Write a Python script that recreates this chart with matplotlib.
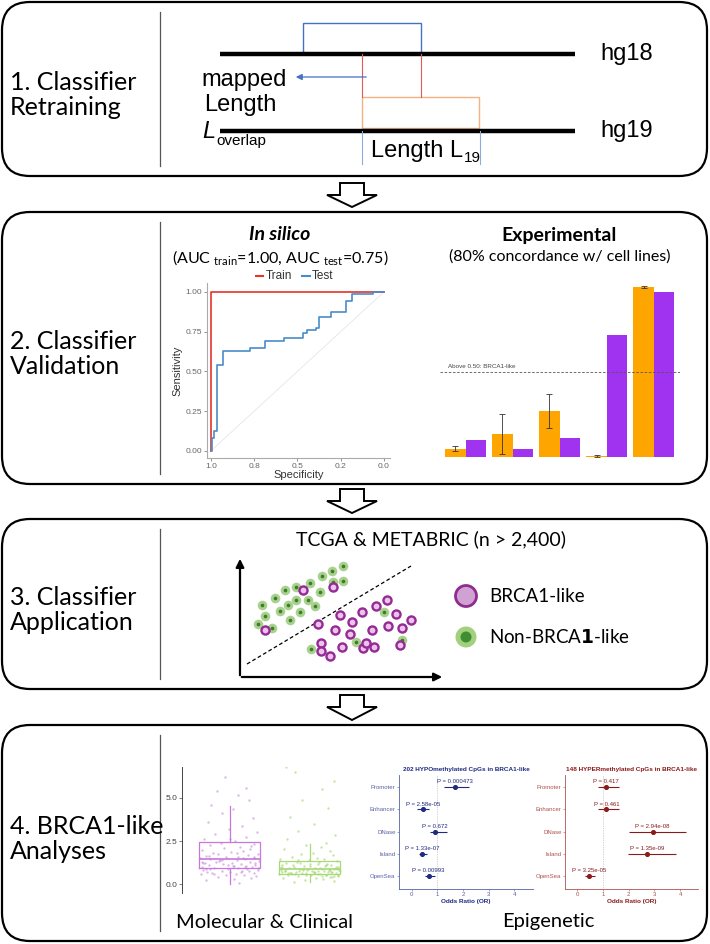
import matplotlib
matplotlib.use("Agg")
import matplotlib.pyplot as plt
from matplotlib.patches import FancyBboxPatch, Polygon, Rectangle, Circle

plt.rcParams['font.family'] = ['Lato', 'DejaVu Sans']
ARIAL = 'Liberation Sans'

# ---------------- data ----------------
# ROC curves (specificity, sensitivity) step corners
roc_test_spec = [1.0, 0.995, 0.984, 0.966, 0.93, 0.775, 0.69, 0.58, 0.47, 0.445,
                 0.39, 0.375, 0.305, 0.22, 0.185, 0.065, 0.0]
roc_test_sens = [0.0, 0.08, 0.125, 0.54, 0.63, 0.65, 0.69, 0.71, 0.74, 0.76,
                 0.775, 0.84, 0.875, 0.94, 0.985, 1.0, 1.0]
roc_train_spec = [1.0, 1.0, 0.0]
roc_train_sens = [0.0, 1.0, 1.0]
roc_ticks = [0.0, 0.25, 0.5, 0.75, 1.0]

# experimental cell line bars
bar_groups = [1, 2, 3, 4, 5]
bar_exp = [0.05, 0.135, 0.27, 0.006, 1.0]
bar_exp_err = [0.015, 0.12, 0.10, 0.004, 0.004]
bar_pred = [0.10, 0.05, 0.11, 0.72, 0.97]
cutoff = 0.5

# classifier application scatter (arbitrary feature space)
green_x = [18, 25, 32, 40, 48, 56, 60, 45, 56, 70, 82, 92, 103, 103, 93, 80, 68, 35, 22, 75,
           71, 116, 144, 162, 50]
green_y = [53, 61, 49, 66, 72, 77, 65, 87, 90, 94, 101, 106, 111, 96, 95, 85, 77, 79, 72, 71,
           28, 35, 65, 37, 57]
purple_x = [25, 63, 93, 81, 81, 90, 102, 123, 126, 134, 100, 112, 122, 136, 147, 156, 148, 162,
            171, 110, 132, 95, 78, 160]
purple_y = [47, 87, 90, 34, 26, 21, 30, 29, 34, 30, 62, 55, 65, 71, 77, 63, 51, 49,
            57, 43, 47, 47, 53, 32]

# molecular & clinical boxplot summary
box_labels = ['BRCA1-like', 'Non-BRCA1-like']
box_q1 = [0.93, 0.58]
box_med = [1.45, 0.87]
box_q3 = [2.44, 1.35]
box_whislo = [0.02, 0.12]
box_whishi = [4.53, 2.33]
purple_vals = [0.05, 0.22, 0.31, 0.38, 0.42, 0.47, 0.51, 0.55, 0.58, 0.61, 0.64, 0.66, 0.69, 0.72,
               0.74, 0.77, 0.8, 0.83, 0.86, 0.88, 0.91, 0.94, 0.97, 1.0, 1.03, 1.06, 1.09, 1.12,
               1.15, 1.18, 1.21, 1.24, 1.28, 1.31, 1.34, 1.38, 1.41, 1.44, 1.47, 1.5, 1.53, 1.57,
               1.6, 1.64, 1.68, 1.72, 1.77, 1.82, 1.87, 1.93, 1.98, 2.04, 2.1, 2.18, 2.25, 2.33,
               2.41, 2.5, 2.62, 2.75, 2.9, 3.05, 3.2, 3.4, 3.6, 3.85, 4.1, 4.35, 4.6, 4.9, 5.15,
               5.4, 5.6, 6.2, 0.6, 0.75, 0.9, 1.05, 1.2, 1.35, 1.5, 1.65, 1.1, 0.95, 1.3, 1.8,
               2.2, 0.7, 1.4, 1.55, 0.85, 2.6, 1.0, 1.25]
purple_dx = [0.12, -0.3, 0.05, 0.27, -0.15, 0.33, -0.05, 0.18, -0.36, 0.08, -0.22, 0.3, 0.0, -0.28,
             0.15, -0.1, 0.35, -0.33, 0.22, -0.02, 0.1, -0.19, 0.28, -0.35, 0.06, 0.2, -0.26, 0.32,
             -0.08, 0.14, -0.31, 0.03, 0.25, -0.17, 0.37, -0.12, 0.09, -0.24, 0.19, -0.37, 0.3, -0.04,
             0.11, -0.29, 0.23, -0.14, 0.36, -0.21, 0.02, 0.17, -0.34, 0.26, -0.07, 0.13, -0.25, 0.31,
             -0.11, 0.07, -0.32, 0.21, -0.18, 0.34, -0.01, 0.16, -0.27, 0.29, -0.09, 0.04, -0.23, 0.24,
             0.1, -0.16, 0.2, -0.06, -0.2, 0.24, -0.3, 0.04, 0.32, -0.13, 0.17, -0.26, -0.02, 0.35,
             -0.34, 0.09, 0.27, 0.14, -0.09, 0.3, -0.24, 0.01, 0.19, -0.33]
green_vals = [0.12, 0.2, 0.25, 0.3, 0.34, 0.38, 0.41, 0.44, 0.47, 0.5, 0.52, 0.55, 0.57, 0.6, 0.62,
              0.64, 0.66, 0.68, 0.7, 0.72, 0.74, 0.76, 0.78, 0.8, 0.82, 0.84, 0.86, 0.88, 0.9, 0.92,
              0.95, 0.98, 1.0, 1.03, 1.06, 1.09, 1.12, 1.15, 1.18, 1.22, 1.26, 1.3, 1.34, 1.38, 1.43,
              1.48, 1.54, 1.6, 1.67, 1.75, 1.83, 1.92, 2.02, 2.13, 2.25, 2.4, 2.6, 2.85, 3.1, 3.5,
              3.9, 4.4, 4.9, 5.5, 6.0, 6.5, 6.8, 0.58, 0.63, 0.71, 0.77, 0.83, 0.69, 0.74, 0.52, 0.9,
              0.97, 1.1, 0.45, 0.65, 0.55, 0.6, 0.67, 0.73, 0.79, 0.85, 0.93, 1.0, 1.08, 1.2, 0.48,
              0.62, 0.7, 0.81, 0.88, 0.57, 0.76, 0.95, 1.15, 1.4, 0.4, 0.53, 0.68, 0.86, 1.02]
green_dx = [-0.2, 0.31, -0.06, 0.17, -0.33, 0.08, 0.26, -0.14, 0.36, -0.27, 0.02, 0.21, -0.38, 0.13,
            -0.09, 0.33, -0.24, 0.05, 0.28, -0.17, 0.38, -0.31, 0.1, -0.03, 0.24, -0.36, 0.15, -0.12,
            0.3, -0.26, 0.07, 0.35, -0.19, 0.19, -0.07, 0.27, -0.34, 0.01, 0.22, -0.29, 0.12, -0.16,
            0.34, -0.01, 0.18, -0.37, 0.09, -0.22, 0.29, -0.11, 0.04, 0.25, -0.32, 0.14, -0.05,
            0.2, -0.28, 0.32, -0.15, 0.06, -0.25, 0.23, -0.1, 0.16, 0.3, -0.18, -0.3, 0.11, -0.23,
            0.27, -0.13, 0.37, -0.35, 0.03, 0.2, -0.08, 0.33, -0.21, 0.15, -0.04, 0.36, -0.18,
            0.07, -0.31, 0.26, -0.02, 0.13, -0.36, 0.21, -0.12, 0.31, -0.27, 0.05, -0.08, 0.34,
            -0.22, 0.18, -0.34, 0.1, -0.15, 0.28, -0.05, 0.23, -0.29, 0.0]

# epigenetic forest plots
cpg_regions = ['Promoter', 'Enhancer', 'DNase', 'Island', 'OpenSea']
hypo_or = [1.69, 0.43, 0.90, 0.39, 0.66]
hypo_lo = [1.25, 0.20, 0.70, 0.30, 0.50]
hypo_hi = [2.24, 0.67, 1.37, 0.58, 0.92]
hypo_p = ['P = 0.000473', 'P = 2.58e-05', 'P = 0.672', 'P = 1.33e-07', 'P = 0.00993']
hyper_or = [1.13, 1.13, 2.93, 2.73, 0.45]
hyper_lo = [0.81, 0.81, 2.03, 1.96, 0.30]
hyper_hi = [1.63, 1.63, 4.22, 3.84, 0.68]
hyper_p = ['P = 0.417', 'P = 0.461', 'P = 2.94e-08', 'P = 1.35e-09', 'P = 3.25e-05']
or_ticks = [0, 1, 2, 3, 4]

# ---------------- canvas ----------------
W, H = 710, 944
fig = plt.figure(figsize=(W / 100, H / 100), dpi=100)
ax = fig.add_axes([0, 0, 1, 1])
ax.set_xlim(0, W)
ax.set_ylim(H, 0)
ax.axis('off')


def inset(x0, y0, x1, y1):
    return fig.add_axes([x0 / W, 1 - y1 / H, (x1 - x0) / W, (y1 - y0) / H])


# panels, dividers and step labels
panels = [(2, 176), (212, 484), (519, 689), (725, 941)]
step_labels = ['1. Classifier\nRetraining', '2. Classifier\nValidation',
               '3. Classifier\nApplication', '4. BRCA1-like\nAnalyses']
for (top, bot), lab in zip(panels, step_labels):
    ax.add_patch(FancyBboxPatch((2, top), 705, bot - top,
                                boxstyle='round,pad=0,rounding_size=28',
                                fc='white', ec='black', lw=1.6, zorder=0))
    ax.plot([160, 160], [top + 10, bot - 10], color='#555555', lw=0.9)
    ax.text(10, (top + bot) / 2 + 6, lab, fontsize=18, ha='left', va='center',
            linespacing=1.15)

# hollow arrows between panels
for y0, yh, y1 in [(183, 195, 207), (489, 501, 513), (695, 707, 720)]:
    ax.add_patch(Polygon([(340, y0), (364, y0), (364, yh), (377, yh), (352, y1),
                          (327, yh), (340, yh)], closed=True, fc='white', ec='black',
                         lw=1.4, joinstyle='miter'))

# ---------------- panel 1 ----------------
for y, lab in [(54, 'hg18'), (131, 'hg19')]:
    ax.plot([220, 575], [y, y], color='black', lw=3.2, solid_capstyle='butt')
    ax.text(600, y, lab, fontsize=17, family=ARIAL, va='center')
ax.add_patch(Rectangle((303, 23), 118, 31, fill=False, ec='#4472C4', lw=1.0))
ax.add_patch(Rectangle((362, 97), 117, 31, fill=False, ec='#F4B183', lw=1.0))
ax.plot([362, 362], [54, 97], color='#E05A5A', lw=0.8)
ax.plot([421, 421], [54, 97], color='#E05A5A', lw=0.8)
ax.plot([362, 362], [131, 164], color='#8FAADC', lw=0.8)
ax.plot([480, 480], [131, 164], color='#8FAADC', lw=0.8)
ax.annotate('', xy=(293, 77), xytext=(369, 77),
            arrowprops=dict(arrowstyle='-|>', color='#4472C4', lw=0.9, mutation_scale=9))
ax.text(201, 80, 'mapped', fontsize=17, family=ARIAL, va='center')
ax.text(204, 105, 'Length', fontsize=17, family=ARIAL, va='center')
ax.text(202, 131, 'L', fontsize=17, family=ARIAL, style='italic', va='center')
ax.text(216, 141, 'overlap', fontsize=11, family=ARIAL, va='center')
ax.text(371, 151, 'Length L', fontsize=17, family=ARIAL, va='center')
ax.text(464, 158, '19', fontsize=11, family=ARIAL, va='center')

# ---------------- panel 2: ROC ----------------
ax.text(280, 235, 'In silico', fontsize=14, weight='bold', style='italic',
        ha='center', va='center')
ax.text(280, 258, r'(AUC $_{\mathregular{train}}$=1.00, AUC $_{\mathregular{test}}$=0.75)',
        fontsize=11.5, ha='center', va='center')
ax.plot([256, 263], [276, 276], color='#E8322B', lw=1.5)
ax.text(266, 276, 'Train', fontsize=8.5, family=ARIAL, va='center', color='#333333')
ax.plot([302, 310], [276, 276], color='#4A8CC8', lw=1.5)
ax.text(312, 276, 'Test', fontsize=8.5, family=ARIAL, va='center', color='#333333')

roc = inset(207, 283, 390, 458)
roc.plot([1, 0], [0, 1], color='#E6E6E6', lw=0.6)
roc.plot(roc_train_spec, roc_train_sens, color='#E8322B', lw=1.2)
roc.step(roc_test_spec, roc_test_sens, where='post', color='#4A8CC8', lw=1.2)
roc.set_xlim(1.023, -0.035)
roc.set_ylim(-0.045, 1.056)
roc.set_xticks(roc_ticks)
roc.set_xticklabels([f'{t:.1f}' for t in roc_ticks])
roc.set_yticks(roc_ticks)
roc.set_yticklabels([f'{t:.2f}' for t in roc_ticks])
for sp in ['top', 'right']:
    roc.spines[sp].set_visible(False)
for sp in ['left', 'bottom']:
    roc.spines[sp].set_color('#AAAAAA')
    roc.spines[sp].set_linewidth(0.8)
roc.tick_params(labelsize=6, colors='#666666', length=2, width=0.5, pad=1.5)
for lab in roc.get_xticklabels() + roc.get_yticklabels():
    lab.set_family(ARIAL)
roc.set_xlabel('Specificity', fontsize=8, family=ARIAL, color='#333333', labelpad=0)
roc.set_ylabel('Sensitivity', fontsize=8, family=ARIAL, color='#333333', labelpad=2)
roc.patch.set_alpha(0)

# ---------------- panel 2: experimental bars ----------------
ax.text(559, 235, 'Experimental', fontsize=14, weight='bold', ha='center', va='center')
ax.text(560, 257, '(80% concordance w/ cell lines)', fontsize=11.5, ha='center', va='center')
bars = inset(440, 280, 680, 457)
bw = 0.43
bars.bar([g - bw / 2 for g in bar_groups], bar_exp, width=bw, color='#FFA500',
         yerr=bar_exp_err, error_kw=dict(ecolor='#333333', elinewidth=0.6, capsize=2,
                                         capthick=0.6))
bars.bar([g + bw / 2 for g in bar_groups], bar_pred, width=bw, color='#A033F0')
bars.axhline(cutoff, color='#555555', lw=0.6, ls=(0, (3, 2)))
bars.text(0.62, cutoff + 0.015, 'Above 0.50: BRCA1-like', fontsize=4.5, family=ARIAL,
          color='#444444', va='bottom')
bars.set_xlim(0.457, 5.56)
bars.set_ylim(0, (457 - 280) / 170)
bars.axis('off')

# ---------------- panel 3: scatter ----------------
ax.text(431, 539, 'TCGA & METABRIC (n > 2,400)', fontsize=14, ha='center', va='center')
ax.annotate('', xy=(240, 556), xytext=(240, 678),
            arrowprops=dict(arrowstyle='-|>', color='black', lw=1.6, mutation_scale=12))
ax.annotate('', xy=(445, 677), xytext=(239, 677),
            arrowprops=dict(arrowstyle='-|>', color='black', lw=1.6, mutation_scale=12))
ax.plot([247, 411], [664, 566], color='black', lw=0.9, ls=(0, (3, 2)))
sc = inset(240, 558, 443, 677)
sc.scatter(green_x, green_y, s=48, color='#A9D18E', lw=0, zorder=2)
sc.scatter(green_x, green_y, s=7, color='#3C7D2A', lw=0, zorder=3)
sc.scatter(purple_x, purple_y, s=34, fc='#EBC3EB', ec='#952A95', lw=1.7, zorder=4)
sc.set_xlim(0, 203)
sc.set_ylim(0, 119)
sc.axis('off')

ax.add_patch(Circle((466, 596), 10.5, fc='#CFA2D3', ec='#8E2C8E', lw=2))
ax.text(489, 596, 'BRCA1-like', fontsize=13.5, va='center')
ax.add_patch(Circle((466, 637), 10.5, fc='#A3D07F', ec='none'))
ax.add_patch(Circle((466, 637), 5.5, fc='#3F8F32', ec='none'))
ax.text(489, 637, r'Non-BRCA$\mathbf{1}$-like', fontsize=13.5, va='center')

# ---------------- panel 4: boxplot ----------------
bx = inset(182, 767, 370, 893)
stats = []
for i in range(2):
    stats.append(dict(label=box_labels[i], q1=box_q1[i], med=box_med[i], q3=box_q3[i],
                      whislo=box_whislo[i], whishi=box_whishi[i], fliers=[]))
bx.scatter([1 + d for d in purple_dx], purple_vals, s=3, color='#C58BDD', alpha=0.6, lw=0)
bx.scatter([2 + d for d in green_dx], green_vals, s=3, color='#9FD66C', alpha=0.6, lw=0)
box_cols = ['#C878DC', '#A8D878']
art = bx.bxp(stats, positions=[1, 2], widths=0.76, showcaps=False, patch_artist=False,
             manage_ticks=False)
for i, c in enumerate(box_cols):
    art['boxes'][i].set(color=c, lw=0.9)
    art['medians'][i].set(color=c, lw=1.2)
    for w in art['whiskers'][2 * i:2 * i + 2]:
        w.set(color=c, lw=0.9)
bx.set_xlim(0.406, 2.756)
bx.set_ylim(-0.52, 6.8)
bx.set_yticks([0, 2.5, 5.0])
bx.set_yticklabels(['0.0', '2.5', '5.0'])
bx.set_xticks([])
for sp in ['top', 'right', 'bottom']:
    bx.spines[sp].set_visible(False)
bx.spines['left'].set_color('#444444')
bx.spines['left'].set_linewidth(0.7)
bx.tick_params(labelsize=6, colors='#444444', length=2, width=0.5, pad=1)
for lab in bx.get_yticklabels():
    lab.set_family(ARIAL)
bx.patch.set_alpha(0)
ax.text(265, 922, 'Molecular & Clinical', fontsize=14.5, ha='center', va='center')


# ---------------- panel 4: forest plots ----------------
def forest(box, lims, ors, los, his, pvals, title, col, labcol):
    fa = inset(*box)
    idx = list(range(len(cpg_regions)))
    fa.axvline(1, color='#AAAAAA', lw=0.5, ls=(0, (1, 1.5)))
    fa.hlines(idx, los, his, color=col, lw=0.8)
    fa.scatter(ors, idx, s=7, color=col, zorder=3)
    for i, (o, p) in enumerate(zip(ors, pvals)):
        fa.text(o, i - 0.12, p, fontsize=4.3, family=ARIAL, color=col, ha='center',
                va='bottom')
    fa.set_xlim(*lims)
    fa.set_ylim(4.58, -0.54)
    fa.set_yticks(idx)
    fa.set_yticklabels(cpg_regions)
    fa.set_xticks(or_ticks)
    for sp in ['top', 'right']:
        fa.spines[sp].set_visible(False)
    for sp in ['left', 'bottom']:
        fa.spines[sp].set_color(labcol)
        fa.spines[sp].set_linewidth(0.6)
    fa.tick_params(labelsize=4.3, colors=labcol, length=1.5, width=0.4, pad=1)
    for lab in fa.get_xticklabels() + fa.get_yticklabels():
        lab.set_family(ARIAL)
    fa.set_title(title, fontsize=4.6, weight='bold', family=ARIAL, color=col, pad=3)
    fa.set_xlabel('Odds Ratio (OR)', fontsize=4.6, weight='bold', family=ARIAL,
                  color=col, labelpad=1)
    fa.patch.set_alpha(0)


forest((399, 775, 533, 889), (-0.5, 4.74), hypo_or, hypo_lo, hypo_hi, hypo_p,
       '202 HYPOmethylated CpGs in BRCA1-like', '#1F2A80', '#5560A8')
forest((565, 775, 698, 889), (-0.48, 4.7), hyper_or, hyper_lo, hyper_hi, hyper_p,
       '148 HYPERmethylated CpGs in BRCA1-like', '#8B1A1A', '#B05050')
ax.text(548, 922, 'Epigenetic', fontsize=14.5, ha='center', va='center')

fig.savefig('out.png', dpi=100)
